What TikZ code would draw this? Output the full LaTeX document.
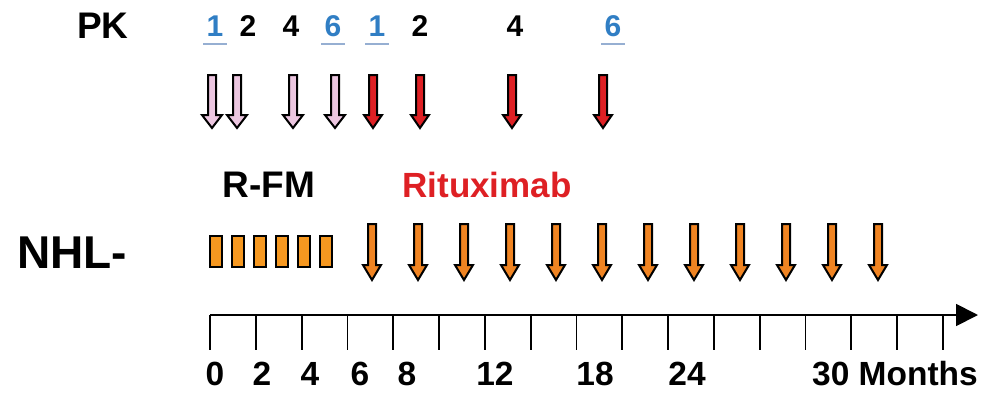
\documentclass[tikz,border=0pt]{standalone}
\usepackage{fontspec}
\setmainfont{Liberation Sans}
\usetikzlibrary{arrows.meta}
\definecolor{pinkfill}{RGB}{236,198,224}
\definecolor{redfill}{RGB}{222,32,36}
\definecolor{orangefill}{RGB}{240,132,34}
\definecolor{rectfill}{RGB}{246,152,32}
\definecolor{pkblue}{RGB}{48,126,196}
\definecolor{ulblue}{RGB}{150,175,210}
\newcommand{\dnarrow}[7]{%
  \draw[#1] (#2-#6,#3) -- (#2+#6,#3) -- (#2+#6,#4) -- (#2+#7,#4) -- (#2,#5)
     -- (#2-#7,#4) -- (#2-#6,#4) -- cycle;}
\tikzset{
  lbl/.style={font=\bfseries, inner sep=0pt, anchor=base},
  pkarrow/.style={draw=black, line width=2pt, line join=miter, fill=pinkfill},
  redarrow/.style={draw=black, line width=2pt, line join=miter, fill=redfill},
  orarrow/.style={draw=black, line width=2pt, line join=miter, fill=orangefill},
  orrect/.style={draw=black, line width=2pt, fill=rectfill},
  uline/.style={draw=ulblue, line width=1.2pt},
  axis/.style={line width=1.8pt},
}
\begin{document}
\begin{tikzpicture}[x=1pt,y=-1pt]
\useasboundingbox (0,0) rectangle (986,394);
% titles
\node[lbl, font=\fontsize{37}{40}\selectfont\bfseries] (pk) at (103,38) {PK};
\node[lbl, font=\fontsize{46}{50}\selectfont\bfseries] (nhl) at (72,268) {NHL-};
\node[lbl, font=\fontsize{37}{40}\selectfont\bfseries] (rfm) at (269,197) {R-FM};
\node[lbl, font=\fontsize{35}{38}\selectfont\bfseries, text=redfill] (rit) at (487,197) {Rituximab};
% PK numbers
\tikzset{pknum/.style={lbl, font=\fontsize{30}{33}\selectfont\bfseries}}
\node[pknum, text=pkblue] (p1) at (215,36) {1};
\node[pknum] (p2) at (248,36) {2};
\node[pknum] (p3) at (291,36) {4};
\node[pknum, text=pkblue] (p4) at (333,36) {6};
\node[pknum, text=pkblue] (p5) at (377,36) {1};
\node[pknum] (p6) at (420,36) {2};
\node[pknum] (p7) at (515,36) {4};
\node[pknum, text=pkblue] (p8) at (613,36) {6};
\foreach \n in {p1,p4,p5,p8}{
  \draw[uline] ([xshift=-3pt,yshift=-8pt]\n.base west) -- ([xshift=3pt,yshift=-8pt]\n.base east);
}
% PK arrows
\foreach \x in {212,237,293,335}{\dnarrow{pkarrow}{\x}{75}{115}{128}{4}{10}}
\foreach \x in {373,420,512,603}{\dnarrow{redarrow}{\x}{75}{115}{128}{4}{9}}
% R-FM rectangles
\foreach \i in {0,...,5}{
  \draw[orrect] (210+22*\i,236) rectangle (222+22*\i,267);
}
% Rituximab arrows
\foreach \i in {0,...,11}{\dnarrow{orarrow}{372+46*\i}{224}{265}{280}{4}{9}}
% axis
\coordinate (a0) at (210,315);
\coordinate (a1) at (978,315);
\draw[axis, -{Triangle[length=22pt,width=22pt]}] (a0) -- (a1);
\foreach \i in {0,...,16}{
  \draw[axis] (210+45.8*\i,315) -- (210+45.8*\i,350);
}
\tikzset{mlbl/.style={lbl, font=\fontsize{33.5}{36}\selectfont\bfseries}}
\node[mlbl] (m0) at (215,385) {0};
\node[mlbl] (m2) at (262,385) {2};
\node[mlbl] (m4) at (310,385) {4};
\node[mlbl] (m6) at (360,385) {6};
\node[mlbl] (m8) at (407,385) {8};
\node[mlbl] (m12) at (495,385) {12};
\node[mlbl] (m18) at (595,385) {18};
\node[mlbl] (m24) at (687,385) {24};
\node[mlbl, anchor=base west] (m30) at (812,385) {30 Months};
\end{tikzpicture}
\end{document}
